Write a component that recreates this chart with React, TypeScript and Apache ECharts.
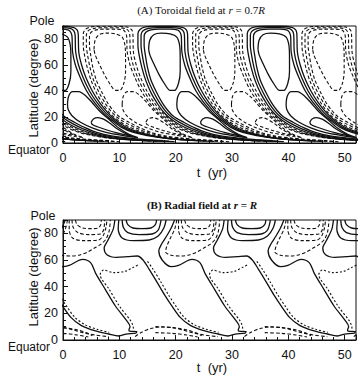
import React, { useEffect, useRef } from "react";
import * as echarts from "echarts";

type Pt = [number, number];

// ---------- axis ticks ----------
const X_MIN = 0;
const X_MAX = 52;
const X_STEP = 10;
const Y_MIN = 0;
const Y_MAX = 90;
const Y_STEP = 20;

// ---------- Panel A (toroidal field, r = 0.7R) ----------
// Cycle start times (years)
const A_SOLID_CYCLES = [-23.6, -4.2, 15.2, 34.6];
const A_DASHED_CYCLES = [-13.9, 5.5, 24.9, 44.3];

// Contour shapes of one polarity band: [time offset (yr), latitude (deg)]
const A_POLAR: Pt[] = [[0,72],[0.2,79],[0.9,83.3],[2.2,84.5],[3.8,84],[5.0,81.5],[5.5,75],[5.6,65],[5.6,55],[5.3,46],[4.6,40.5],[3.8,40.5],[2.9,45],[1.8,53],[0.8,62],[0.2,68],[0,72]];
const A_LOW: Pt[] = [[5.0,30],[5.2,36],[5.9,39.5],[7.0,39.5],[8.3,36],[9.4,31],[10.6,25],[12.4,18],[14.1,11.5],[16.0,6.5],[17.5,4.2],[16.0,5.0],[14.2,6.3],[12.0,8],[9.5,11.5],[7.3,16],[5.8,21],[5.1,26],[5.0,30]];
const A_LOW_IN: Pt[] = [[9.2,16],[9.6,18.5],[10.4,19.5],[11.4,18.3],[12.6,15],[13.8,11],[15.2,7.5],[16.3,5.5],[15.3,6.3],[13.8,7.8],[12,10],[10.3,12.5],[9.4,14.3],[9.2,16]];
const A_BAND1: Pt[] = [[22,1.8],[19,2.6],[15.9,3.7],[12.8,5.4],[10.2,8.1],[8.1,11.8],[6.3,15.8],[4.5,20.2],[3.4,25],[2.4,31],[1.4,39],[0.4,48.5],[-0.2,58],[-0.6,68],[-0.8,75],[-0.8,82],[-0.5,85.2],[0.4,87],[1.9,87.6],[3.8,87.6],[5.2,86.9],[5.6,85],[5.8,82],[5.9,70],[6.4,60],[7.3,50],[8.4,40],[9.8,31],[11.4,23],[12.9,17.4],[14.6,12],[16.7,8.1],[19.2,5.7],[21.8,3.9],[24.7,2.8],[28,2.0]];
const A_BAND2: Pt[] = [[23,1.4],[19.5,2.1],[16.2,3.1],[12.9,4.7],[10.1,7.3],[7.8,10.9],[5.9,14.9],[4.15,19.6],[3.0,24.5],[2.0,30.5],[0.95,38.5],[-0.05,48],[-0.7,58],[-1.15,68],[-1.35,75],[-1.35,83],[-1.0,86.4],[0,88.2],[1.7,88.7],[3.9,88.7],[5.6,88],[6.15,86],[6.35,83],[6.45,70],[6.95,60],[7.8,50],[8.9,40],[10.25,31],[11.8,23],[13.25,17.5],[14.95,12.2],[17.1,8.3],[19.7,5.6],[22.6,3.6],[25.8,2.4],[29.5,1.6]];
const A_BAND3: Pt[] = [[24,1.0],[20,1.6],[16.5,2.5],[13,4],[10,6.5],[7.5,10],[5.5,14],[3.8,19],[2.6,24],[1.6,30],[0.5,38],[-0.5,48],[-1.2,58],[-1.7,68],[-1.9,75],[-1.9,84],[-1.5,87.5],[-0.5,89.3],[1.5,89.8],[4,89.8],[6,89],[6.7,87],[6.9,84],[7.0,70],[7.5,60],[8.3,50],[9.4,40],[10.7,31],[12.2,23],[13.6,17.5],[15.3,12.5],[17.5,8.5],[20.2,5.5],[23.5,3.3],[27,2],[31,1.2]];

// ---------- Panel B (radial field, r = R) ----------
const B_CYCLES = [-38.8, -19.4, 0, 19.4, 38.8];

const B_MAIN: Pt[] = [[9.2,90],[8.9,83],[8.0,75],[7.3,69],[7.8,64],[9.5,62],[11.5,62.5],[13.2,63],[14.2,60],[15.3,53],[16.6,44],[18,34],[19.4,25],[20.8,17],[22.6,11],[25,7],[27.5,4.5],[29.3,3.0],[30.6,4.4],[32.3,5.2],[32.5,6.3],[31.2,6.6],[31.1,7.5],[31.3,10],[30.7,14.5],[28.7,25.5],[26.9,38],[25.2,50],[24.3,58],[22.9,60.5],[20.5,56],[19.2,55],[17.6,60],[17.0,67],[17.5,72],[18.4,78],[19.2,84],[19.8,90]];
const B_PL1: Pt[] = [[11.2,90],[11.5,86.5],[12.4,84],[14,83.5],[15.6,84],[16.4,86.5],[16.6,90]];
const B_PL2: Pt[] = [[10.5,90],[10.7,84.5],[11.5,80.5],[13.5,79],[15.8,79.5],[16.9,82.5],[17.4,90]];
const B_PL3: Pt[] = [[9.9,90],[9.8,83],[10.5,76.5],[12.5,74.5],[15.3,75],[16.9,78],[17.9,84],[18.3,90]];

const B_DPOL1: Pt[] = [[2.2,90],[2.5,86.5],[3.5,84],[5,83.5],[6.2,84],[6.7,86.5],[6.8,90]];
const B_DPOL2: Pt[] = [[1.6,90],[1.8,84.5],[2.7,80.5],[4.6,79],[6.6,79.5],[7.2,82.5],[7.4,90]];
const B_DPOL3: Pt[] = [[1.1,90],[1.1,83],[1.7,76.5],[3.7,74.5],[6.3,75],[7.1,78],[7.6,84],[7.8,90]];
const B_DOUT: Pt[] = [[0.8,90],[0.4,83],[-0.4,76],[-1.0,70],[-1.2,66],[-0.2,63.5],[1.5,63],[3.0,63.8],[4.4,66],[5.6,69],[6.6,71.5],[7.6,75.5],[8.2,82],[8.4,90]];
const B_DD1: Pt[] = [[12.5,8.5],[12.4,11],[12.0,14.5],[10.0,25.5],[8.2,38],[6.6,49],[7.2,52.5],[9,50.5],[11,51.5],[12.5,54.5],[13.6,57]];
const B_DD2: Pt[] = [[15.0,59],[16.0,53],[17.3,44],[18.7,34],[20.1,25],[21.5,17],[23.3,11.5],[25.6,7.8],[27.6,5.8]];
const B_DB: Pt[] = [[12.8,2.5],[13.8,5.5],[15.5,8.5],[17.5,9.8],[19.5,9.3],[21,7.8],[23,5.5],[25,3.8],[27.5,2.5]];
const B_DBL1: Pt[] = [[-3,10],[0,9.3],[2.5,7.6],[4.3,5.2],[5.2,3.2]];
const B_DBL2: Pt[] = [[-3,5.5],[0,5],[2.5,3.8],[4.5,2.2]];

const SANS = "'Liberation Sans', Arial, Helvetica, sans-serif";
const SERIF = "'Liberation Serif', 'Times New Roman', serif";
const INK = "#111";

function shifted(line: Pt[], dt: number): Pt[] {
  return line.map(([u, lat]) => [u + dt, lat] as Pt);
}

function contour(panel: number, data: Pt[], dashed: boolean, fine = false) {
  return {
    type: "line",
    xAxisIndex: panel,
    yAxisIndex: panel,
    data,
    symbol: "none",
    showSymbol: false,
    silent: true,
    smooth: 0.3,
    clip: true,
    lineStyle: {
      color: INK,
      width: dashed ? 1.1 : 1.3,
      type: dashed ? (fine ? [2, 2] : [3.5, 2.2]) : "solid",
    },
    z: 3,
  };
}

function buildSeries() {
  const series: any[] = [];
  const aShapes = [A_POLAR, A_LOW, A_LOW_IN, A_BAND1, A_BAND2, A_BAND3];
  A_SOLID_CYCLES.forEach((s) => aShapes.forEach((sh) => series.push(contour(0, shifted(sh, s), false))));
  A_DASHED_CYCLES.forEach((s) => aShapes.forEach((sh) => series.push(contour(0, shifted(sh, s), true))));

  B_CYCLES.forEach((c) => {
    [B_MAIN, B_PL1, B_PL2, B_PL3].forEach((sh) => series.push(contour(1, shifted(sh, c), false)));
    [B_DPOL1, B_DPOL2, B_DPOL3, B_DOUT, B_DB, B_DBL1, B_DBL2].forEach((sh) =>
      series.push(contour(1, shifted(sh, c), true))
    );
    [B_DD1, B_DD2].forEach((sh) => series.push(contour(1, shifted(sh, c), true, true)));
  });
  return series;
}

function xAxis(gridIndex: number) {
  return {
    type: "value",
    gridIndex,
    min: X_MIN,
    max: X_MAX,
    interval: X_STEP,
    axisLine: { show: true, lineStyle: { color: INK, width: 1 } },
    axisTick: { show: true, inside: true, length: 5, lineStyle: { color: INK } },
    minorTick: { show: true, splitNumber: 5, length: 3, lineStyle: { color: INK } },
    splitLine: { show: false },
    axisLabel: {
      color: INK,
      fontFamily: SANS,
      fontSize: 12.5,
      margin: 8,
      formatter: (v: number) => (v % X_STEP === 0 ? String(v) : ""),
    },
  };
}

function yAxis(gridIndex: number) {
  return {
    type: "value",
    gridIndex,
    min: Y_MIN,
    max: Y_MAX,
    interval: Y_STEP,
    axisLine: { show: true, lineStyle: { color: INK, width: 1 } },
    axisTick: { show: true, inside: true, length: 5, lineStyle: { color: INK } },
    minorTick: { show: true, splitNumber: 4, length: 3, lineStyle: { color: INK } },
    splitLine: { show: false },
    axisLabel: {
      color: INK,
      fontFamily: SANS,
      fontSize: 12.5,
      margin: 5,
      formatter: (v: number) => (v % Y_STEP === 0 ? String(v) : ""),
    },
  };
}

function label(text: string, x: number, y: number, extra: any = {}, rotation = 0) {
  return {
    type: "text",
    x,
    y,
    rotation,
    silent: true,
    style: {
      text,
      fill: INK,
      fontFamily: SANS,
      fontSize: 12.5,
      align: "center",
      verticalAlign: "middle",
      ...extra,
    },
  };
}

export default function App() {
  const ref = useRef<HTMLDivElement>(null);

  useEffect(() => {
    if (!ref.current) return;
    const chart = echarts.init(ref.current, undefined, { renderer: "svg" });
    const plotW = (X_MAX - X_MIN) * 5.78;
    chart.setOption({
      animation: false,
      backgroundColor: "#fff",
      grid: [
        { left: 63, top: 26, width: plotW, height: 117, show: true, borderColor: INK, borderWidth: 1, backgroundColor: "transparent" },
        { left: 63, top: 220, width: plotW, height: 120, show: true, borderColor: INK, borderWidth: 1, backgroundColor: "transparent" },
      ],
      xAxis: [xAxis(0), xAxis(1)],
      yAxis: [yAxis(0), yAxis(1)],
      series: buildSeries(),
      graphic: [
        label("(A) Toroidal field at {i|r} = 0.7{i|R}", 201, 10, {
          fontFamily: SERIF,
          fontSize: 11,
          rich: { i: { fontStyle: "italic", fontFamily: SERIF, fontSize: 11 } },
        }),
        label("(B) Radial field at {i|r} = {i|R}", 202, 205, {
          fontFamily: SERIF,
          fontSize: 11,
          fontWeight: "bold",
          rich: { i: { fontStyle: "italic", fontWeight: "bold", fontFamily: SERIF, fontSize: 11 } },
        }),
        label("Pole", 42, 21),
        label("Equator", 29, 150, { fontSize: 12 }),
        label("Latitude (degree)", 33, 88, { fontSize: 13 }, Math.PI / 2),
        label("t  (yr)", 212, 172, { fontSize: 13 }),
        label("Pole", 43, 216),
        label("Equator", 29, 347, { fontSize: 12 }),
        label("Latitude (degree)", 33, 277, { fontSize: 13 }, Math.PI / 2),
        label("t  (yr)", 212, 367, { fontSize: 13 }),
      ],
    });
    return () => chart.dispose();
  }, []);

  return (
    <div
      ref={ref}
      style={{ position: "absolute", left: 0, top: 0, width: 359, height: 377, background: "#fff" }}
    />
  );
}
